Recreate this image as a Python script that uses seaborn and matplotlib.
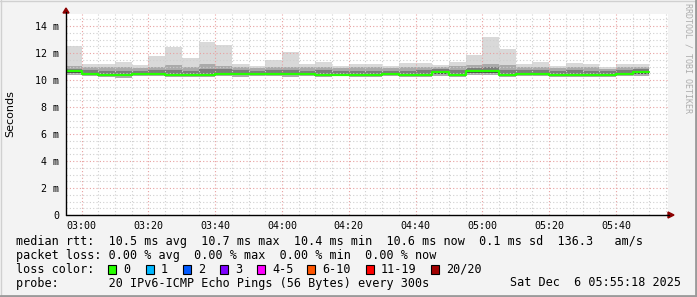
import numpy as np
import pandas as pd
import seaborn as sns
import matplotlib
matplotlib.use("Agg")
import matplotlib.pyplot as plt
from matplotlib.patches import Rectangle, Polygon
from matplotlib.lines import Line2D

# ---------------- data (ms), one value per 5-minute step, first step 02:55 ----------------
rtt_max = [12.54, 11.16, 11.20, 11.30, 11.09, 11.80, 12.46, 11.60, 12.82, 12.60,
           11.18, 11.02, 11.48, 12.08, 11.17, 11.33, 11.07, 11.15, 11.22, 11.05,
           11.24, 11.24, 11.12, 11.33, 11.88, 13.15, 12.32, 11.19, 11.30, 11.02,
           11.29, 11.19, 10.97, 11.21, 11.18]
rtt_p90 = [11.05, 10.95, 10.95, 10.95, 10.90, 11.00, 11.10, 11.00, 11.15, 11.05,
           10.95, 10.90, 11.00, 11.00, 10.95, 11.00, 10.90, 10.95, 11.00, 10.90,
           11.00, 11.00, 11.00, 11.05, 11.10, 11.15, 11.10, 10.95, 11.00, 10.90,
           11.00, 10.95, 10.85, 11.00, 11.00]
rtt_p75 = [10.85, 10.75, 10.70, 10.70, 10.70, 10.75, 10.75, 10.70, 10.80, 10.80,
           10.75, 10.70, 10.75, 10.75, 10.70, 10.75, 10.70, 10.70, 10.70, 10.70,
           10.70, 10.75, 10.80, 10.75, 10.90, 10.95, 10.75, 10.75, 10.75, 10.65,
           10.75, 10.70, 10.65, 10.75, 10.80]
rtt_median = [10.65, 10.44, 10.37, 10.37, 10.42, 10.47, 10.37, 10.40, 10.40, 10.47,
              10.42, 10.42, 10.44, 10.42, 10.47, 10.40, 10.40, 10.40, 10.37, 10.44,
              10.37, 10.37, 10.57, 10.40, 10.64, 10.64, 10.37, 10.47, 10.44, 10.37,
              10.40, 10.37, 10.37, 10.44, 10.57]
rtt_p25 = [10.55, 10.37, 10.30, 10.30, 10.35, 10.40, 10.30, 10.33, 10.33, 10.40,
           10.35, 10.36, 10.38, 10.35, 10.40, 10.33, 10.34, 10.32, 10.30, 10.38,
           10.30, 10.30, 10.48, 10.33, 10.55, 10.55, 10.30, 10.40, 10.37, 10.30,
           10.33, 10.30, 10.31, 10.37, 10.48]
rtt_min = [10.35, 10.27, 10.20, 10.17, 10.27, 10.30, 10.22, 10.25, 10.20, 10.30,
           10.25, 10.28, 10.30, 10.25, 10.30, 10.25, 10.28, 10.20, 10.25, 10.30,
           10.22, 10.20, 10.30, 10.25, 10.40, 10.40, 10.20, 10.30, 10.28, 10.22,
           10.25, 10.20, 10.25, 10.28, 10.30]

step_min = 5
first_step_min = -5          # 02:55 relative to 03:00
x_tick_labels = ["03:00", "03:20", "03:40", "04:00", "04:20", "04:40", "05:00", "05:20", "05:40"]
y_tick_values = [0, 2, 4, 6, 8, 10, 12, 14]
y_tick_labels = ["0", "2 m", "4 m", "6 m", "8 m", "10 m", "12 m", "14 m"]

loss_labels = ["0", "1", "2", "3", "4-5", "6-10", "11-19", "20/20"]
loss_colors = ["#26ff00", "#00b8ff", "#0059ff", "#7e00ff", "#ff00ff", "#ff5500", "#ff0000", "#a10000"]

legend_rtt = "median rtt:  10.5 ms avg  10.7 ms max  10.4 ms min  10.6 ms now  0.1 ms sd  136.3   am/s"
legend_loss = "packet loss: 0.00 % avg  0.00 % max  0.00 % min  0.00 % now"
legend_color = "loss color:"
legend_probe = "probe:       20 IPv6-ICMP Echo Pings (56 Bytes) every 300s"
stamp = "Sat Dec  6 05:55:18 2025"

# ---------------- figure ----------------
sns.set_theme(style="white")
plt.rcParams["font.family"] = ["DejaVu Sans Mono", "DejaVu Sans"]

W, H = 697, 297
fig = plt.figure(figsize=(W / 100, H / 100), dpi=100, facecolor="#f3f3f3")

def fx(px):
    return px / W

def fy(py):
    return 1 - py / H

ax = fig.add_axes([fx(66), fy(215), fx(668) - fx(66), fy(14) - fy(215)])
ax.set_facecolor("white")

n = len(rtt_median)
starts = np.array([first_step_min + i * step_min for i in range(n)], dtype=float)
mx = np.array(rtt_max); p90 = np.array(rtt_p90); p75 = np.array(rtt_p75)
md = np.array(rtt_median); p25 = np.array(rtt_p25); mn = np.array(rtt_min)

# smoke bands
ax.bar(starts, mx - mn, bottom=mn, width=step_min, align="edge", color="#d9d9d9", linewidth=0, zorder=1)
ax.bar(starts, p90 - mn, bottom=mn, width=step_min, align="edge", color="#aaaaaa", linewidth=0, zorder=1.1)
ax.bar(starts, p75 - p25, bottom=p25, width=step_min, align="edge", color="#7c7c7c", linewidth=0, zorder=1.2)
ax.bar(starts, md - p25, bottom=p25, width=step_min, align="edge", color="#4a4a4a", linewidth=0, zorder=1.3)

# median line as steps
df = pd.DataFrame({"t": list(starts) + [starts[-1] + step_min],
                   "median": list(md) + [md[-1]]})
sns.lineplot(data=df, x="t", y="median", drawstyle="steps-post", color=loss_colors[0],
             linewidth=1.6, ax=ax, zorder=4)

ax.set_xlim(-4.70, 175.6)
ax.set_ylim(0, 14.89)
ax.set_xlabel("")
ax.set_ylabel("")

ax.set_xticks([i * 20 for i in range(len(x_tick_labels))])
ax.set_xticklabels(x_tick_labels)
ax.set_xticks(np.arange(0, 176, 5), minor=True)
ax.set_yticks(y_tick_values)
ax.set_yticklabels(y_tick_labels)
ax.set_yticks(np.arange(0, 14.9, 0.5), minor=True)

ax.set_axisbelow(False)
ax.grid(which="minor", color="#cfcfcf", linestyle=(0, (1, 2)), linewidth=0.8, zorder=2.5)
ax.grid(which="major", color="#e8a0a0", linestyle=(0, (1, 2)), linewidth=0.8, zorder=2.6)

ax.tick_params(axis="both", which="major", length=3, width=0.8, color="#404040",
               labelsize=7.2, labelcolor="#000000", direction="out")
ax.tick_params(axis="x", which="major", pad=1.0)
ax.tick_params(axis="y", which="major", pad=2.0)
ax.tick_params(axis="both", which="minor", length=0)

for s in ["top", "right", "left", "bottom"]:
    ax.spines[s].set_visible(False)

# axis lines with arrows
fig.add_artist(Line2D([fx(66), fx(66)], [fy(215), fy(12)], color="#000000", linewidth=1.0))
fig.add_artist(Line2D([fx(66), fx(669)], [fy(215), fy(215)], color="#000000", linewidth=1.0))
fig.add_artist(Polygon([[fx(63), fy(13)], [fx(69), fy(13)], [fx(66), fy(8)]], closed=True,
                       color="#8b0000", transform=fig.transFigure))
fig.add_artist(Polygon([[fx(668), fy(212)], [fx(668), fy(218)], [fx(674), fy(215)]], closed=True,
                       color="#8b0000", transform=fig.transFigure))

# labels
fig.text(fx(10), fy(114), "Seconds", rotation=90, ha="center", va="center",
         fontsize=8, family="DejaVu Sans", color="#000000")
fig.text(fx(688), fy(58), "RRDTOOL / TOBI OETIKER", rotation=270, ha="center", va="center",
         fontsize=6, color="#adadad")

# legend
mono = dict(fontsize=8.5, va="center", ha="left", color="#000000")
fig.text(fx(16), fy(241.5), legend_rtt, **mono)
fig.text(fx(16), fy(255.5), legend_loss, **mono)
fig.text(fx(16), fy(269.3), legend_color, **mono)
fig.text(fx(16), fy(283), legend_probe, **mono)
fig.text(fx(681), fy(283), stamp, fontsize=8.5, va="center", ha="right", color="#000000")

box_x = [108, 146, 183, 220, 257, 307, 366, 431]
for bx, lab, col in zip(box_x, loss_labels, loss_colors):
    fig.add_artist(Rectangle((fx(bx), fy(274)), 8 / W, 9 / H, transform=fig.transFigure,
                             facecolor=col, edgecolor="#000000", linewidth=0.8))
    fig.text(fx(bx + 15), fy(269.3), lab, **mono)

# frame
fig.add_artist(Line2D([0, 1], [fy(0.5), fy(0.5)], color="#d0d0d0", linewidth=1.0))
fig.add_artist(Line2D([fx(0.5), fx(0.5)], [0, 1], color="#d0d0d0", linewidth=1.0))
fig.add_artist(Line2D([0, 1], [fy(296), fy(296)], color="#9a9a9a", linewidth=2.0))
fig.add_artist(Line2D([fx(696), fx(696)], [0, 1], color="#9a9a9a", linewidth=2.0))

fig.savefig("out.png", dpi=100, facecolor=fig.get_facecolor())
